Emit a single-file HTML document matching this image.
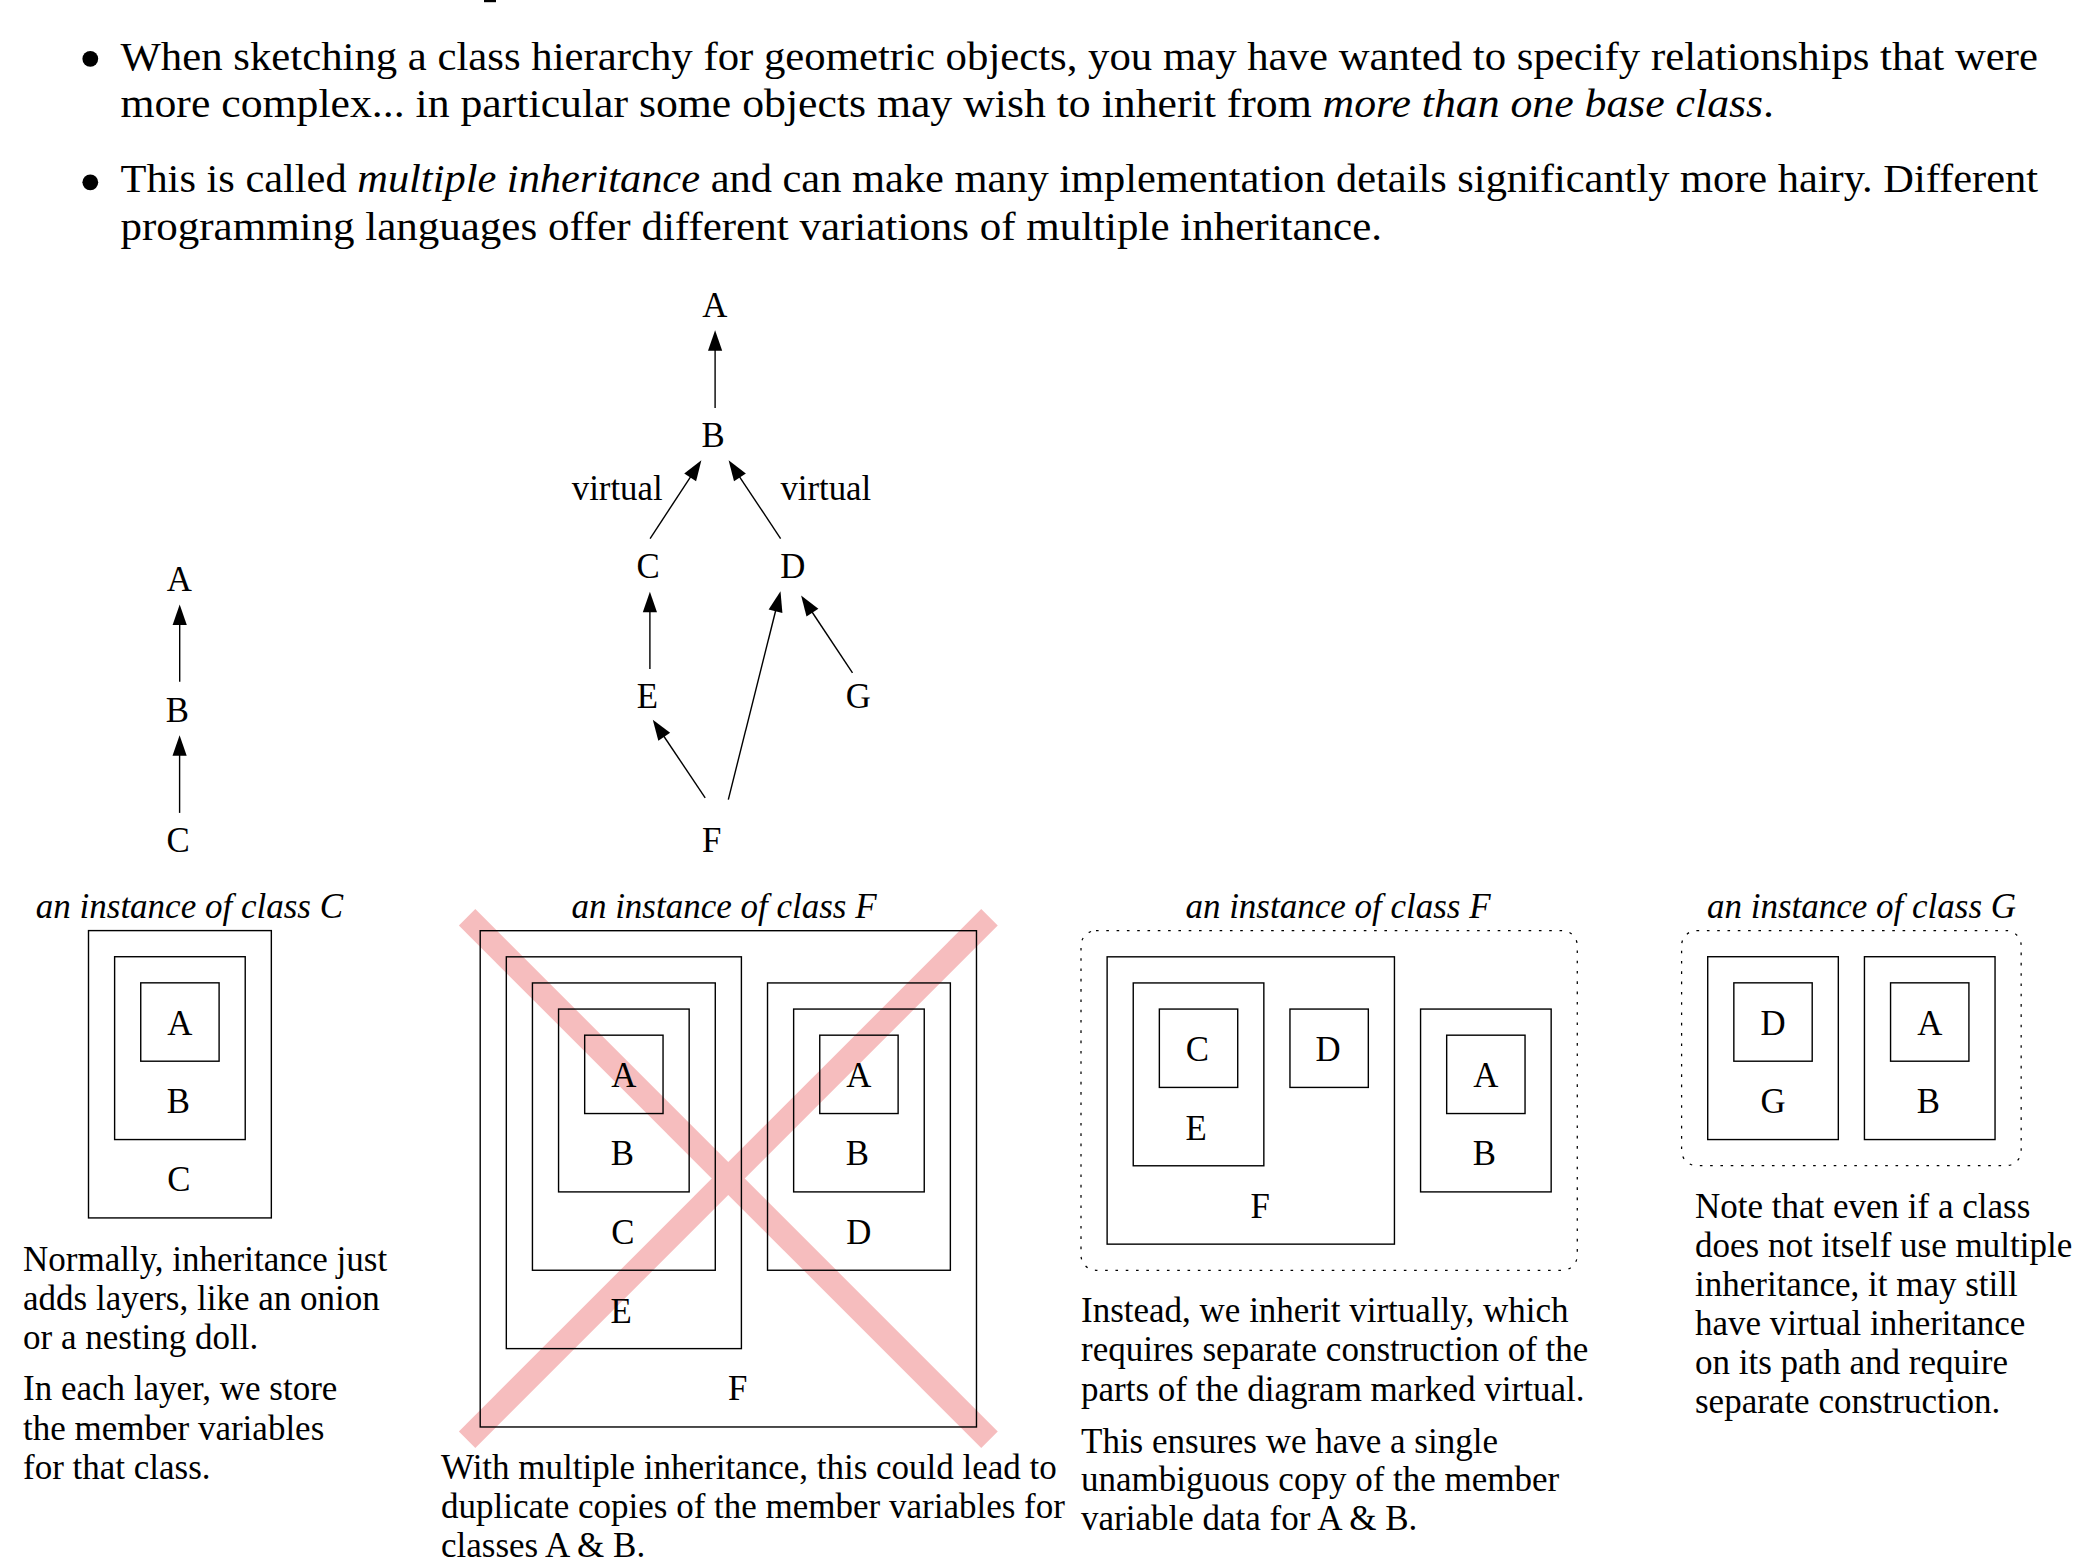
<!DOCTYPE html>
<html><head><meta charset="utf-8"><title>Multiple inheritance</title>
<style>
html,body{margin:0;padding:0;background:#fff;}
body{width:2097px;height:1562px;overflow:hidden;position:relative;}
svg{position:absolute;left:0;top:0;}
text{font-family:"Liberation Serif",serif;fill:#000;}
.bx{fill:none;stroke:#000;stroke-width:1.4;}
.ln{stroke:#000;stroke-width:1.4;}
.ah{fill:#000;}
.dot{fill:none;stroke:#000;stroke-width:1.25;stroke-dasharray:2.6 7.7;}
.it{font-style:italic;}
</style></head><body>
<svg width="2097" height="1562" viewBox="0 0 2097 1562">

<rect x="484" y="0" width="12" height="2.2" fill="#000"/>
<circle cx="90.3" cy="58.8" r="7.9" fill="#000"/>
<circle cx="90.3" cy="182.3" r="7.9" fill="#000"/>
<text x="120.5" y="69.5" font-size="39.5" textLength="1917.5" lengthAdjust="spacingAndGlyphs">When sketching a class hierarchy for geometric objects, you may have wanted to specify relationships that were</text>
<text x="120.5" y="117.0" font-size="39.5" textLength="1653.5" lengthAdjust="spacingAndGlyphs">more complex... in particular some objects may wish to inherit from <tspan class="it">more than one base class</tspan>.</text>
<text x="120.5" y="192.2" font-size="39.5" textLength="1917.5" lengthAdjust="spacingAndGlyphs">This is called <tspan class="it">multiple inheritance</tspan> and can make many implementation details significantly more hairy.  Different</text>
<text x="120.5" y="239.5" font-size="39.5" textLength="1261.5" lengthAdjust="spacingAndGlyphs">programming languages offer different variations of multiple inheritance.</text>
<text x="179.20" y="590.50" text-anchor="middle" font-size="34.8">A</text>
<text x="177.30" y="721.80" text-anchor="middle" font-size="34.8">B</text>
<text x="178.10" y="852.30" text-anchor="middle" font-size="34.8">C</text>
<line x1="179.70" y1="681.80" x2="179.70" y2="624.00" class="ln"/>
<polygon points="179.70,604.50 186.80,625.00 172.60,625.00" class="ah"/>
<line x1="179.60" y1="812.90" x2="179.60" y2="754.70" class="ln"/>
<polygon points="179.60,735.20 186.70,755.70 172.50,755.70" class="ah"/>
<text x="714.70" y="316.90" text-anchor="middle" font-size="34.8">A</text>
<text x="713.20" y="447.00" text-anchor="middle" font-size="34.8">B</text>
<text x="648.10" y="578.10" text-anchor="middle" font-size="34.8">C</text>
<text x="792.70" y="578.10" text-anchor="middle" font-size="34.8">D</text>
<text x="647.30" y="707.90" text-anchor="middle" font-size="34.8">E</text>
<text x="858.30" y="707.90" text-anchor="middle" font-size="34.8">G</text>
<text x="711.80" y="851.90" text-anchor="middle" font-size="34.8">F</text>
<text x="617.20" y="499.60" text-anchor="middle" font-size="34.8">virtual</text>
<text x="825.80" y="499.60" text-anchor="middle" font-size="34.8">virtual</text>
<line x1="715.10" y1="408.00" x2="715.10" y2="349.70" class="ln"/>
<polygon points="715.10,330.20 722.20,350.70 708.00,350.70" class="ah"/>
<line x1="650.10" y1="538.60" x2="690.71" y2="476.61" class="ln"/>
<polygon points="701.40,460.30 696.10,481.34 684.23,473.56" class="ah"/>
<line x1="780.60" y1="538.60" x2="739.39" y2="476.54" class="ln"/>
<polygon points="728.60,460.30 745.86,473.45 734.03,481.31" class="ah"/>
<line x1="649.90" y1="669.10" x2="649.90" y2="611.20" class="ln"/>
<polygon points="649.90,591.70 657.00,612.20 642.80,612.20" class="ah"/>
<line x1="852.50" y1="672.90" x2="811.89" y2="611.74" class="ln"/>
<polygon points="801.10,595.50 818.36,608.65 806.53,616.51" class="ah"/>
<line x1="728.30" y1="799.70" x2="775.76" y2="610.22" class="ln"/>
<polygon points="780.50,591.30 782.41,612.91 768.63,609.46" class="ah"/>
<line x1="705.20" y1="797.80" x2="663.67" y2="735.99" class="ln"/>
<polygon points="652.80,719.80 670.13,732.86 658.34,740.78" class="ah"/>
<rect x="88.50" y="930.60" width="182.84" height="287.32" class="bx"/>
<rect x="114.62" y="956.72" width="130.60" height="182.84" class="bx"/>
<rect x="140.74" y="982.84" width="78.36" height="78.36" class="bx"/>
<text x="179.92" y="1034.62" text-anchor="middle" font-size="34.8">A</text>
<text x="178.42" y="1112.98" text-anchor="middle" font-size="34.8">B</text>
<text x="178.92" y="1191.34" text-anchor="middle" font-size="34.8">C</text>
<text x="189.4" y="917.6" text-anchor="middle" font-size="35.0" class="it">an instance of class C</text>
<line x1="467.1" y1="917.3" x2="989.5" y2="1439.7" stroke="#f6bdbe" stroke-width="23.3"/>
<line x1="467.1" y1="1439.7" x2="989.5" y2="917.3" stroke="#f6bdbe" stroke-width="23.3"/>
<rect x="480.20" y="930.70" width="496.28" height="496.28" class="bx"/>
<rect x="506.32" y="956.82" width="235.08" height="391.80" class="bx"/>
<rect x="532.44" y="982.94" width="182.84" height="287.32" class="bx"/>
<rect x="558.56" y="1009.06" width="130.60" height="182.84" class="bx"/>
<rect x="584.68" y="1035.18" width="78.36" height="78.36" class="bx"/>
<rect x="767.52" y="982.94" width="182.84" height="287.32" class="bx"/>
<rect x="793.64" y="1009.06" width="130.60" height="182.84" class="bx"/>
<rect x="819.76" y="1035.18" width="78.36" height="78.36" class="bx"/>
<text x="623.86" y="1086.96" text-anchor="middle" font-size="34.8">A</text>
<text x="622.36" y="1165.32" text-anchor="middle" font-size="34.8">B</text>
<text x="622.86" y="1243.68" text-anchor="middle" font-size="34.8">C</text>
<text x="621.06" y="1322.84" text-anchor="middle" font-size="34.8">E</text>
<text x="858.94" y="1086.96" text-anchor="middle" font-size="34.8">A</text>
<text x="857.44" y="1165.32" text-anchor="middle" font-size="34.8">B</text>
<text x="858.94" y="1243.68" text-anchor="middle" font-size="34.8">D</text>
<text x="737.64" y="1400.40" text-anchor="middle" font-size="34.8">F</text>
<text x="724" y="917.6" text-anchor="middle" font-size="35.0" class="it">an instance of class F</text>
<rect x="1081.0" y="930.7" width="496.28" height="339.56" rx="15" ry="15" class="dot"/>
<rect x="1107.12" y="956.82" width="287.32" height="287.32" class="bx"/>
<rect x="1133.24" y="982.94" width="130.60" height="182.84" class="bx"/>
<rect x="1159.36" y="1009.06" width="78.36" height="78.36" class="bx"/>
<rect x="1289.96" y="1009.06" width="78.36" height="78.36" class="bx"/>
<rect x="1420.56" y="1009.06" width="130.60" height="182.84" class="bx"/>
<rect x="1446.68" y="1035.18" width="78.36" height="78.36" class="bx"/>
<text x="1197.34" y="1060.84" text-anchor="middle" font-size="34.8">C</text>
<text x="1196.24" y="1139.70" text-anchor="middle" font-size="34.8">E</text>
<text x="1328.14" y="1060.84" text-anchor="middle" font-size="34.8">D</text>
<text x="1260.28" y="1217.56" text-anchor="middle" font-size="34.8">F</text>
<text x="1485.86" y="1086.96" text-anchor="middle" font-size="34.8">A</text>
<text x="1484.36" y="1165.32" text-anchor="middle" font-size="34.8">B</text>
<text x="1338" y="917.6" text-anchor="middle" font-size="35.0" class="it">an instance of class F</text>
<rect x="1681.6" y="930.6" width="339.56" height="235.08" rx="15" ry="15" class="dot"/>
<rect x="1707.72" y="956.72" width="130.60" height="182.84" class="bx"/>
<rect x="1733.84" y="982.84" width="78.36" height="78.36" class="bx"/>
<rect x="1864.44" y="956.72" width="130.60" height="182.84" class="bx"/>
<rect x="1890.56" y="982.84" width="78.36" height="78.36" class="bx"/>
<text x="1773.02" y="1034.62" text-anchor="middle" font-size="34.8">D</text>
<text x="1773.02" y="1112.98" text-anchor="middle" font-size="34.8">G</text>
<text x="1929.74" y="1034.62" text-anchor="middle" font-size="34.8">A</text>
<text x="1928.24" y="1112.98" text-anchor="middle" font-size="34.8">B</text>
<text x="1861.5" y="917.6" text-anchor="middle" font-size="35.0" class="it">an instance of class G</text>
<text x="23.0" y="1270.50" font-size="35.0">Normally, inheritance just</text>
<text x="23.0" y="1309.70" font-size="35.0">adds layers, like an onion</text>
<text x="23.0" y="1348.90" font-size="35.0">or a nesting doll.</text>
<text x="23.0" y="1400.30" font-size="35.0">In each layer, we store</text>
<text x="23.0" y="1439.50" font-size="35.0">the member variables</text>
<text x="23.0" y="1478.70" font-size="35.0">for that class.</text>
<text x="441.0" y="1479.30" font-size="35.0">With multiple inheritance, this could lead to</text>
<text x="441.0" y="1518.10" font-size="35.0">duplicate copies of the member variables for</text>
<text x="441.0" y="1556.90" font-size="35.0">classes A &amp; B.</text>
<text x="1081.0" y="1321.70" font-size="35.0">Instead, we inherit virtually, which</text>
<text x="1081.0" y="1361.20" font-size="35.0">requires separate construction of the</text>
<text x="1081.0" y="1400.70" font-size="35.0">parts of the diagram marked virtual.</text>
<text x="1081.0" y="1452.60" font-size="35.0">This ensures we have a single</text>
<text x="1081.0" y="1491.40" font-size="35.0">unambiguous copy of the member</text>
<text x="1081.0" y="1530.20" font-size="35.0">variable data for A &amp; B.</text>
<text x="1695.0" y="1217.80" font-size="35.0">Note that even if a class</text>
<text x="1695.0" y="1256.85" font-size="35.0">does not itself use multiple</text>
<text x="1695.0" y="1295.90" font-size="35.0">inheritance, it may still</text>
<text x="1695.0" y="1334.95" font-size="35.0">have virtual inheritance</text>
<text x="1695.0" y="1374.00" font-size="35.0">on its path and require</text>
<text x="1695.0" y="1413.05" font-size="35.0">separate construction.</text>
</svg></body></html>
